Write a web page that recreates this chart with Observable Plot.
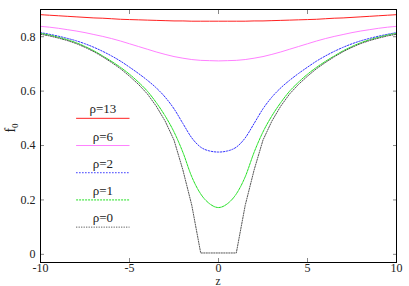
<!DOCTYPE html>
<html><head><meta charset="utf-8">
<script src="https://cdn.jsdelivr.net/npm/d3@7"></script>
<script src="https://cdn.jsdelivr.net/npm/@observablehq/plot@0.6"></script>
<style>body{margin:0;background:#fff}#chart{width:409px;height:286px}</style>
</head><body><div id="chart"></div>
<script>
const z = [-10,-9.5,-9,-8.5,-8,-7.5,-7,-6.5,-6,-5.5,-5,-4.5,-4,-3.5,-3,-2.5,-2,-1.5,-1,-0.5,0,
  0.5,1,1.5,2,2.5,3,3.5,4,4.5,5,5.5,6,6.5,7,7.5,8,8.5,9,9.5,10];
const rho13 = [0.881,0.879,0.877,0.875,0.873,0.871,0.869,0.868,0.866,0.864,0.863,0.862,0.861,0.860,0.859,0.858,0.858,0.857,0.857,0.857,0.857,
  0.857,0.857,0.857,0.858,0.858,0.859,0.860,0.861,0.862,0.863,0.864,0.866,0.868,0.869,0.871,0.873,0.875,0.877,0.879,0.881];
const rho6 = [0.838,0.835,0.831,0.826,0.821,0.815,0.808,0.801,0.793,0.784,0.774,0.764,0.754,0.744,0.735,0.727,0.721,0.716,0.713,0.712,0.711,
  0.712,0.713,0.716,0.721,0.727,0.735,0.744,0.754,0.764,0.774,0.784,0.793,0.801,0.808,0.815,0.821,0.826,0.831,0.835,0.838];
const rho2 = [0.815,0.809,0.802,0.794,0.785,0.774,0.761,0.746,0.729,0.710,0.688,0.665,0.640,0.612,0.578,0.535,0.481,0.428,0.394,0.380,0.376,
  0.380,0.394,0.428,0.481,0.535,0.578,0.612,0.640,0.665,0.688,0.710,0.729,0.746,0.761,0.774,0.785,0.794,0.802,0.809,0.815];
const rho1 = [0.812,0.806,0.798,0.789,0.778,0.764,0.748,0.729,0.709,0.687,0.662,0.633,0.600,0.558,0.509,0.450,0.375,0.285,0.222,0.186,0.172,
  0.186,0.222,0.285,0.375,0.450,0.509,0.558,0.600,0.633,0.662,0.687,0.709,0.729,0.748,0.764,0.778,0.789,0.798,0.806,0.812];
const rho0 = [0.809,0.803,0.795,0.786,0.775,0.761,0.745,0.726,0.705,0.682,0.655,0.625,0.590,0.545,0.490,0.420,0.310,0.180,0.005,0.005,0.005,
  0.005,0.005,0.180,0.310,0.420,0.490,0.545,0.590,0.625,0.655,0.682,0.705,0.726,0.745,0.761,0.775,0.786,0.795,0.803,0.809];
const labels = ["ρ=13","ρ=6","ρ=2","ρ=1","ρ=0"];
const xTicks = [-10,-5,0,5,10];
const yTicks = [0,0.2,0.4,0.6,0.8];

const seriesValues = [rho13, rho6, rho2, rho1, rho0];
const styles = [
  {stroke:"#ff2020", dash:null, curve:"monotone-x", w:1},
  {stroke:"#ff80ff", dash:null, curve:"monotone-x", w:1},
  {stroke:"#3030ff", dash:"1.5,1.5", curve:"monotone-x", w:1},
  {stroke:"#20e020", dash:"2,1", curve:"monotone-x", w:1},
  {stroke:"#555555", dash:"1.2,1.3", curve:"linear", w:1}
];
const FONT = "'Liberation Serif', 'DejaVu Serif', serif";

const marks = [];
seriesValues.forEach((vals, i) => {
  const rows = z.map((zz, j) => ({z: zz, f: vals[j]}));
  const s = styles[i];
  marks.push(Plot.line(rows, {x:"z", y:"f", stroke:s.stroke, strokeWidth:s.w, strokeDasharray:s.dash, curve:s.curve}));
});
// legend (inside plot, in data space like the original)
const legend = labels.map((l, i) => ({label:l, i, y: 0.5 - 0.1*i}));
legend.forEach(d => {
  const s = styles[d.i];
  marks.push(Plot.link([d], {x1: -8, x2: -5, y1:"y", y2:"y", stroke:s.stroke, strokeWidth:s.w, strokeDasharray:s.dash}));
});
marks.push(Plot.text(legend, {x: -6.5, y:"y", text:"label", dy:-9, fontSize:13, fill:"#222"}));

const chart = Plot.plot({
  width: 409, height: 286,
  marginLeft: 40, marginRight: 13, marginTop: 9, marginBottom: 24,
  style: {fontSize: "12px", color:"#222", background:"#fff"},
  x: {domain: [-10, 10]},
  y: {domain: [-0.03, 0.9]},
  marks: [
    ...marks,
    Plot.axisX({ticks: xTicks, tickSize: -4, tickPadding: 5, tickFormat: d => String(d), label: null, stroke:"#888"}),
    Plot.axisX({anchor:"top", ticks: xTicks, tickSize: -4, tickFormat: () => "", label: null, stroke:"#888"}),
    Plot.axisY({ticks: yTicks, tickSize: -4, tickPadding: 9, tickFormat: d => String(d), label: null, stroke:"#888"}),
    Plot.axisY({anchor:"right", ticks: yTicks, tickSize: -4, tickFormat: () => "", label: null, stroke:"#888"}),
    Plot.frame({stroke: "#000"})
  ]
});
document.getElementById("chart").appendChild(chart);
const svg = d3.select(chart);
const yl = svg.append("text").attr("transform","translate(15,128) rotate(-90)")
  .attr("text-anchor","middle").attr("font-size","14px").attr("fill","#222");
yl.append("tspan").text("f");
yl.append("tspan").attr("font-size","9px").attr("dy","3").text("0");
svg.append("text").attr("x",218).attr("y",285).attr("text-anchor","middle")
  .attr("font-size","11.5px").attr("fill","#222").text("z");
svg.attr("font-family", FONT).style("font-family", FONT);
svg.selectAll("g, text, tspan").attr("font-family", FONT).style("font-family", FONT);
</script>
</body></html>
